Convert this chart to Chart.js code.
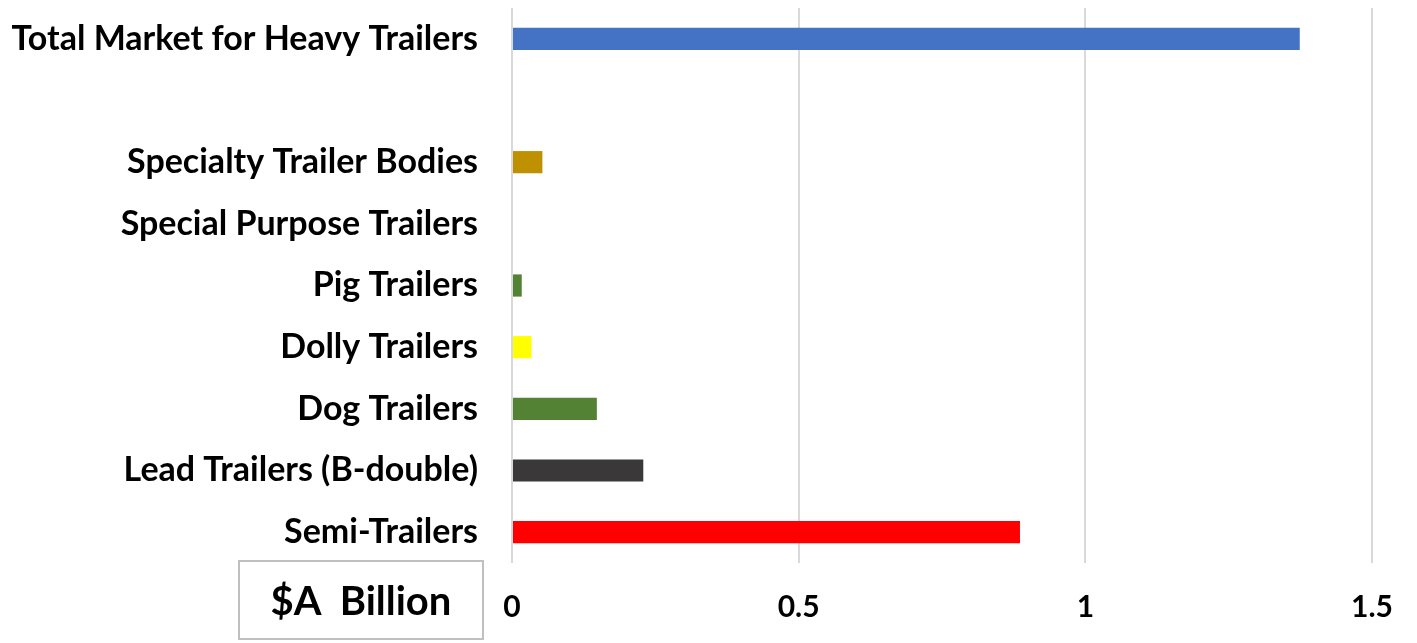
<!DOCTYPE html>
<html>
<head>
<meta charset="utf-8">
<script src="https://cdn.jsdelivr.net/npm/chart.js@4.4.1/dist/chart.umd.min.js"></script>
<style>
  html, body { margin: 0; padding: 0; background: #ffffff; }
  #wrap { position: relative; width: 1417px; height: 643px; }
  #unitBox {
    position: absolute; left: 238px; top: 560px; width: 242px; height: 76px;
    border: 2px solid #bfbfbf; box-sizing: content-box;
    font-family: Lato, "Open Sans", sans-serif; font-weight: bold; font-size: 40px;
    color: #000; display: flex; align-items: center; justify-content: center;
    white-space: pre;
  }
</style>
</head>
<body>
<div id="wrap">
  <canvas id="c" width="1417" height="643"></canvas>
  <div id="unitBox">$A  Billion</div>
</div>
<script>
// Heavy trailer market segments, $A billion
const categories = [
  "Total Market for Heavy Trailers",
  "",
  "Specialty Trailer Bodies",
  "Special Purpose Trailers",
  "Pig Trailers",
  "Dolly Trailers",
  "Dog Trailers",
  "Lead Trailers (B-double)",
  "Semi-Trailers"
];
const values = [1.374, null, 0.053, 0, 0.017, 0.034, 0.148, 0.229, 0.886];
const barColors = ["#4472C4", "#ffffff", "#BF9000", "#A5A5A5", "#548235", "#FFFF00", "#548235", "#3A3838", "#FF0000"];
const xTicks = [0, 0.5, 1, 1.5];

const fontFamily = "Lato, 'Open Sans', sans-serif";

new Chart(document.getElementById("c"), {
  type: "bar",
  data: {
    labels: categories,
    datasets: [{
      data: values,
      backgroundColor: barColors,
      borderWidth: 0,
      barPercentage: 0.36,
      categoryPercentage: 1.0
    }]
  },
  options: {
    indexAxis: "y",
    responsive: false,
    animation: false,
    devicePixelRatio: 1,
    layout: { padding: { top: 8, right: 45, bottom: 0, left: 0 } },
    plugins: { legend: { display: false }, tooltip: { enabled: false } },
    scales: {
      x: {
        min: 0,
        max: 1.5,
        afterBuildTicks: (scale) => { scale.ticks = xTicks.map(v => ({ value: v })); },
        afterFit: (scale) => { scale.height = 80; scale.paddingLeft = 0; scale.paddingRight = 0; },
        grid: { color: "#d9d9d9", lineWidth: 2, drawTicks: false },
        border: { display: false },
        ticks: {
          padding: 26,
          color: "#000000",
          font: { family: fontFamily, weight: "bold", size: 30 },
          callback: (v) => String(v)
        }
      },
      y: {
        afterFit: (scale) => { scale.width = 512; scale.paddingTop = 0; scale.paddingBottom = 0; },
        grid: { display: false, drawTicks: false },
        border: { display: false },
        ticks: {
          padding: 34,
          color: "#000000",
          autoSkip: false,
          font: { family: fontFamily, weight: "bold", size: 34 }
        }
      }
    }
  }
});
</script>
</body>
</html>
